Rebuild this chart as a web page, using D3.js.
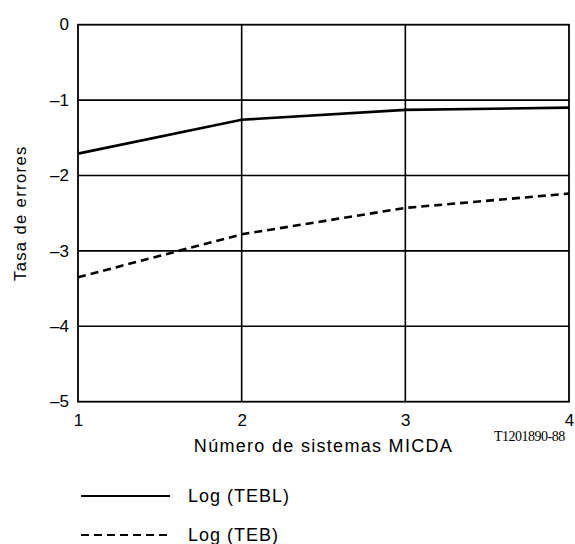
<!DOCTYPE html>
<html>
<head>
<meta charset="utf-8">
<script src="https://cdn.jsdelivr.net/npm/d3@7"></script>
<style>
  html, body { margin: 0; padding: 0; background: #fff; }
  svg { display: block; }
  text { font-family: "Liberation Sans", Arial, sans-serif; fill: #000; }
</style>
</head>
<body>
<svg id="chart" width="575" height="544"></svg>
<script>
// ---- data ----
const systems = [1, 2, 3, 4];
const logTEBL = [-1.71, -1.26, -1.13, -1.10];
const logTEB  = [-3.35, -2.78, -2.43, -2.24];
const seriesNames = ["Log (TEBL)", "Log (TEB)"];
const xTicks = [1, 2, 3, 4];
const xTickLabels = ["1", "2", "3", "4"];
const yTicks = [0, -1, -2, -3, -4, -5];
const yTickLabels = ["0", "\u20131", "\u20132", "\u20133", "\u20134", "\u20135"];
const xTitle = "Número de sistemas MICDA";
const yTitle = "Tasa de errores";
const figCode = "T1201890-88";

// ---- layout ----
const svg = d3.select("#chart");
const L = 78, T = 24.7, R = 569, B = 401.7;
const x = d3.scaleLinear().domain([1, 4]).range([L, R]);
const y = d3.scaleLinear().domain([-5, 0]).range([B, T]);

// grid lines
const g = svg.append("g");
g.selectAll("line.h").data(yTicks.filter(v => v !== 0 && v !== -5)).join("line")
  .attr("x1", L).attr("x2", R)
  .attr("y1", d => y(d)).attr("y2", d => y(d))
  .attr("stroke", "#000").attr("stroke-width", 1.6);
g.selectAll("line.v").data(xTicks.filter(v => v !== 1 && v !== 4)).join("line")
  .attr("y1", T).attr("y2", B)
  .attr("x1", d => x(d)).attr("x2", d => x(d))
  .attr("stroke", "#000").attr("stroke-width", 1.6);
// frame
g.append("rect").attr("x", L).attr("y", T).attr("width", R - L).attr("height", B - T)
  .attr("fill", "none").attr("stroke", "#000").attr("stroke-width", 1.8);

// axes labels via d3 axes
const yAxis = d3.axisLeft(y).tickValues(yTicks).tickSize(0).tickPadding(9)
  .tickFormat((d, i) => yTickLabels[i]);
const ya = svg.append("g").attr("transform", `translate(${L},0)`).call(yAxis)
  .attr("font-size", 17).attr("font-family", "'Liberation Sans', Arial, sans-serif");
ya.select(".domain").remove();
ya.selectAll("text").attr("fill", "#000").attr("dy", "0.3em");

const xAxis = d3.axisBottom(x).tickValues(xTicks).tickSize(0).tickPadding(12)
  .tickFormat((d, i) => xTickLabels[i]);
const xa = svg.append("g").attr("transform", `translate(0,${B})`).call(xAxis)
  .attr("font-size", 17).attr("font-family", "'Liberation Sans', Arial, sans-serif");
xa.select(".domain").remove();
xa.selectAll("text").attr("fill", "#000");

// series lines
const line = d3.line().x((d, i) => x(systems[i])).y(d => y(d));
svg.append("path").datum(logTEBL).attr("d", line)
  .attr("fill", "none").attr("stroke", "#000").attr("stroke-width", 2.6);
svg.append("path").datum(logTEB).attr("d", line)
  .attr("fill", "none").attr("stroke", "#000").attr("stroke-width", 2.6)
  .attr("stroke-dasharray", "8,5");

// titles
svg.append("text").attr("x", (L + R) / 2).attr("y", 452)
  .attr("text-anchor", "middle").attr("fill", "#000")
  .style("font-size", "18px").style("letter-spacing", "1.3px")
  .text(xTitle);
svg.append("text").attr("transform", `translate(25.5,${(T + B) / 2}) rotate(-90)`)
  .attr("text-anchor", "middle").attr("fill", "#000")
  .style("font-size", "16.5px").style("letter-spacing", "1.4px")
  .text(yTitle);
svg.append("text").attr("x", 494).attr("y", 441).attr("fill", "#000")
  .style("font-family", "'Liberation Serif', 'Times New Roman', serif")
  .style("font-size", "14px").style("letter-spacing", "-0.5px")
  .text(figCode);

// legend
const legY = [496, 535];
const leg = svg.append("g");
seriesNames.forEach((name, i) => {
  leg.append("line").attr("x1", 81).attr("x2", 170).attr("y1", legY[i]).attr("y2", legY[i])
    .attr("stroke", "#000").attr("stroke-width", 1.8)
    .attr("stroke-dasharray", i === 1 ? "8,5" : null);
  leg.append("text").attr("x", 188).attr("y", legY[i] + 6).attr("fill", "#000")
    .style("font-size", "18px").style("letter-spacing", "1px")
    .text(name);
});
</script>
</body>
</html>
